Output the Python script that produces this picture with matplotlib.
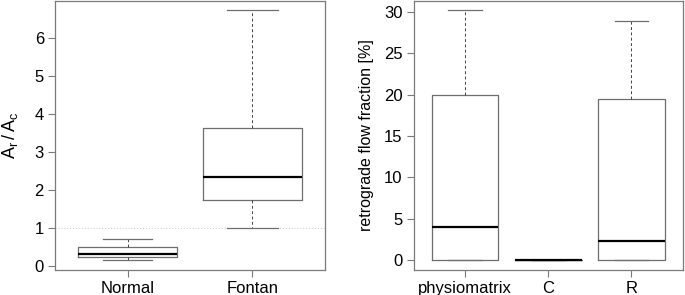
import matplotlib
matplotlib.use("Agg")
import matplotlib.pyplot as plt

plt.rcParams['font.family'] = ['Liberation Sans', 'DejaVu Sans']

# Left panel data
left_cats = ["Normal", "Fontan"]
left_whislo = [0.15, 1.00]
left_q1 = [0.23, 1.74]
left_med = [0.31, 2.34]
left_q3 = [0.49, 3.62]
left_whishi = [0.71, 6.73]
left_yticks = [0, 1, 2, 3, 4, 5, 6]

# Right panel data
right_cats = ["physiomatrix", "C", "R"]
right_whislo = [0.0, 0.0, 0.0]
right_q1 = [0.0, 0.0, 0.0]
right_med = [4.0, 0.0, 2.25]
right_q3 = [20.0, 0.0, 19.45]
right_whishi = [30.2, 0.0, 28.9]
right_yticks = [0, 5, 10, 15, 20, 25, 30]

W, H = 685, 295
fig = plt.figure(figsize=(W / 100, H / 100), dpi=100)

TICK_FS = 12.0
LAB_FS = 11.5
edge = "#6e6e6e"
frame = "#7a7a7a"


def make_stats(cats, lo, q1, med, q3, hi):
    return [dict(label=c, whislo=a, q1=b, med=m, q3=d, whishi=e, fliers=[])
            for c, a, b, m, d, e in zip(cats, lo, q1, med, q3, hi)]


def draw(ax, stats, yticks, ylabel):
    n = len(stats)
    ax.bxp(stats, positions=range(1, n + 1), widths=0.8, showfliers=False,
           boxprops=dict(color=edge, linewidth=0.9),
           medianprops=dict(color="black", linewidth=1.6, solid_capstyle="butt"),
           whiskerprops=dict(color="#444444", linewidth=0.7, linestyle=(0, (3, 2.5))),
           capprops=dict(color=edge, linewidth=0.9),
           capwidths=0.4)
    allv = [s["whislo"] for s in stats] + [s["whishi"] for s in stats]
    lo, hi = min(allv), max(allv)
    r = hi - lo
    ax.set_ylim(lo - 0.04 * r, hi + 0.04 * r)
    ax.set_xlim(0.5 - 0.04 * n, n + 0.5 + 0.04 * n)
    ax.set_yticks(yticks)
    ax.set_xticks(range(1, n + 1))
    ax.set_xticklabels([s["label"] for s in stats])
    for sp in ax.spines.values():
        sp.set_color(frame)
        sp.set_linewidth(0.9)
    ax.tick_params(axis="both", direction="out", length=5, width=0.8, color=frame,
                   labelsize=TICK_FS, pad=3)
    ax.set_ylabel(ylabel, fontsize=LAB_FS)


ax1 = fig.add_axes([55 / W, (H - 270) / H, 270 / W, 269.5 / H])
draw(ax1, make_stats(left_cats, left_whislo, left_q1, left_med, left_q3, left_whishi),
     left_yticks, r"$\mathregular{A_r\,/\,A_c}$")
ax1.yaxis.label.set_fontsize(13)
ax1.axhline(1, color="#c8c8c8", linewidth=0.7, linestyle=(0, (1, 2)), zorder=0)
ax1.yaxis.set_label_coords(-0.128, 0.5)

ax2 = fig.add_axes([413.5 / W, (H - 270) / H, 269.5 / W, 269.5 / H])
draw(ax2, make_stats(right_cats, right_whislo, right_q1, right_med, right_q3, right_whishi),
     right_yticks, "retrograde flow fraction [%]")
ax2.yaxis.set_label_coords(-0.147, 0.5)

fig.savefig("out.png", dpi=100)
